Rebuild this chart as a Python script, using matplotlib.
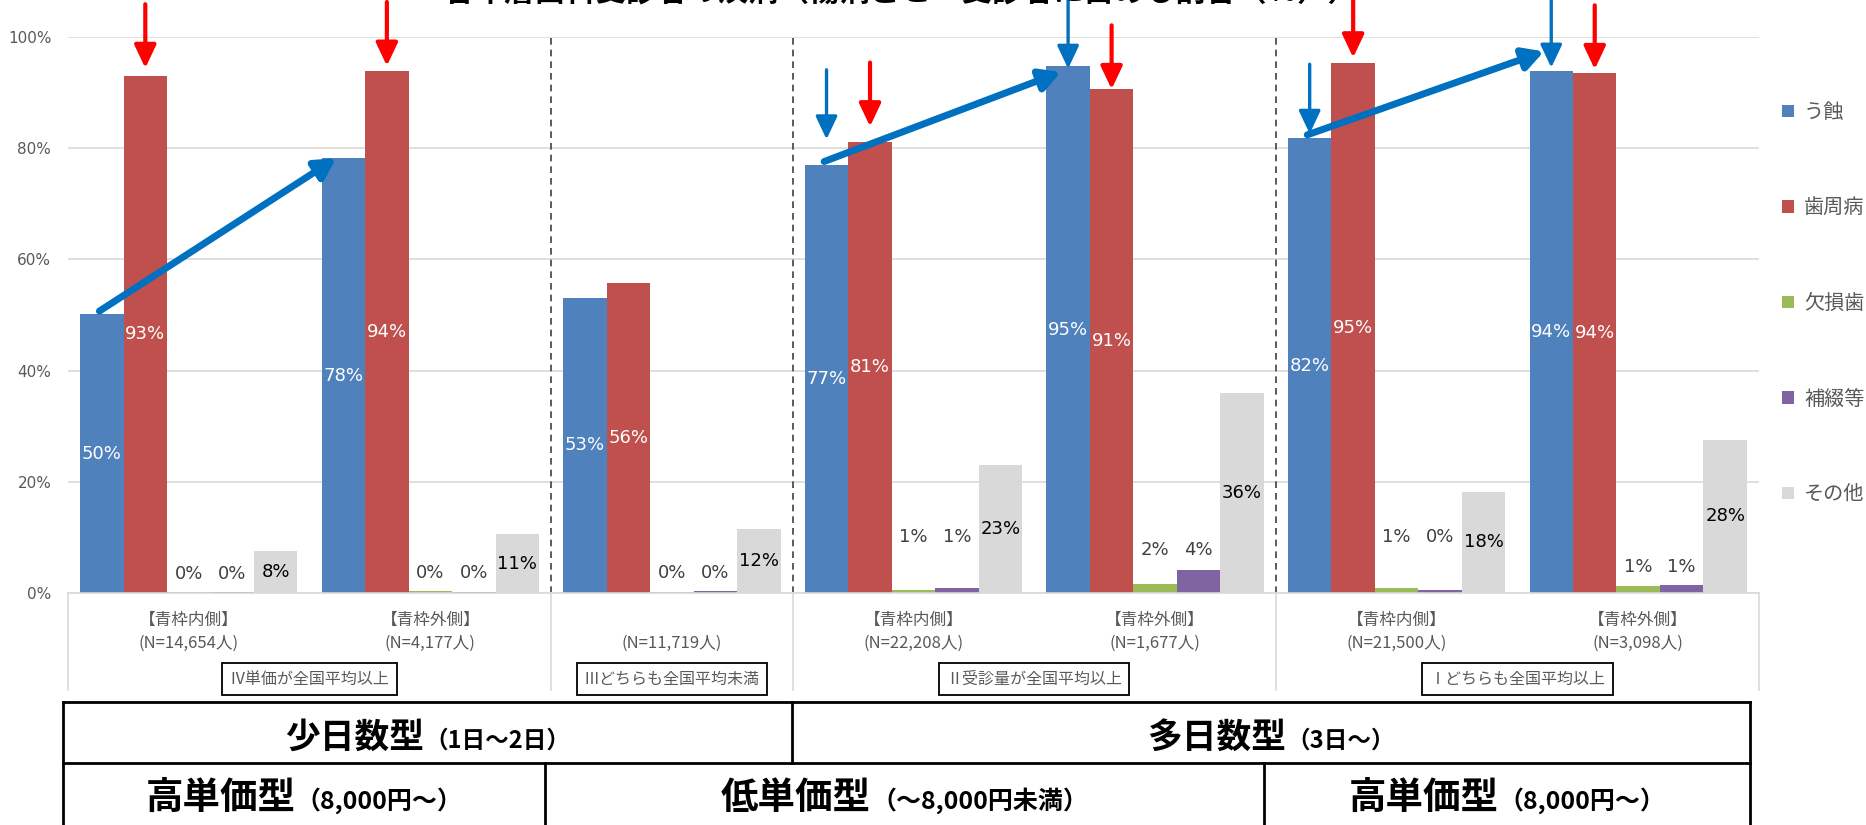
import numpy as np
import matplotlib
matplotlib.use('Agg')
import matplotlib.pyplot as plt
from matplotlib.lines import Line2D
from matplotlib.ticker import PercentFormatter

plt.rcParams['font.family'] = ['Noto Sans CJK JP', 'DejaVu Sans']

# ---------------------------------------------- data

title = '各年層歯科受診者の疾病（傷病ごと：受診者に占める割合（％））'

cat_top = ['【青枠内側】', '【青枠外側】', '', '【青枠内側】', '【青枠外側】', '【青枠内側】', '【青枠外側】']
cat_n = ['(N=14,654人)', '(N=4,177人)', '(N=11,719人)', '(N=22,208人)',
         '(N=1,677人)', '(N=21,500人)', '(N=3,098人)']
group_labels = ['Ⅳ単価が全国平均以上', 'Ⅲどちらも全国平均未満', 'Ⅱ受診量が全国平均以上', 'Ⅰどちらも全国平均以上']
group_spans = [(0, 1), (2, 2), (3, 4), (5, 6)]

series_names = ['う蝕', '歯周病', '欠損歯', '補綴等', 'その他']
caries = [50.1, 78.2, 53.1, 77.0, 94.7, 81.8, 93.9]
perio = [93.0, 93.8, 55.8, 81.2, 90.6, 95.3, 93.6]
missing = [0.1, 0.3, 0.1, 0.6, 1.7, 0.9, 1.3]
prosth = [0.1, 0.1, 0.3, 0.9, 4.2, 0.5, 1.4]
other = [7.6, 10.6, 11.6, 23.0, 36.0, 18.2, 27.6]

red_arrow_cats = [0, 1, 3, 4, 5, 6]
blue_arrow_cats = [3, 4, 5, 6]
trend_pairs = [(0, 1), (3, 4), (5, 6)]

table_row1 = [('少日数型', '（1日～2日）'), ('多日数型', '（3日～）')]
table_row2 = [('高単価型', '（8,000円～）'), ('低単価型', '（～8,000円未満）'), ('高単価型', '（8,000円～）')]

# ---------------------------------------------- layout / style

W, H = 1866, 825
colors = ['#4F81BD', '#C0504D', '#9BBB59', '#8064A2', '#D9D9D9']
bar_w = 0.18
small_label_y = [0.034, 0.036, 0.036, 0.10, 0.077, 0.10, 0.047]
red_gap = {0: 0.014, 1: 0.01, 3: 0.027, 4: 0.0, 5: 0.01, 6: 0.006}
blue_gap = {3: 0.046, 4: -0.004, 5: 0.008, 6: 0.006}
trend_end_dy = [0.0, -0.01, 0.035]
arrow_len = 0.115
row1_x = [63, 792, 1750]
row2_x = [63, 545, 1264, 1750]
table_y = [702, 763, 830]

fig = plt.figure(figsize=(W / 100, H / 100), dpi=100)
ax = fig.add_axes([68 / W, 1 - 593 / H, (1759 - 68) / W, (593 - 37) / H])

x = np.arange(len(caries))
series = [caries, perio, missing, prosth, other]
bars = []
for j, (vals, c, name) in enumerate(zip(series, colors, series_names)):
    b = ax.bar(x + (j - 2) * bar_w, np.array(vals) / 100, bar_w, color=c, label=name, zorder=2)
    bars.append(b)

ax.set_xlim(-0.5, 6.5)
ax.set_ylim(0, 1)
ax.set_yticks(np.arange(0, 1.01, 0.2))
ax.yaxis.set_major_formatter(PercentFormatter(1.0, decimals=0))
ax.tick_params(axis='y', length=0, pad=12, labelsize=11, labelcolor='#595959', labelfontfamily='DejaVu Sans')
ax.set_xticks([])
ax.yaxis.grid(True, color='#D9D9D9', lw=1.2)
ax.set_axisbelow(True)
for s in ['left', 'right', 'top']:
    ax.spines[s].set_visible(False)
ax.spines['bottom'].set_color('#D9D9D9')
ax.spines['bottom'].set_linewidth(1.2)

# value labels
for j, b in enumerate(bars):
    for i, rect in enumerate(b):
        v = series[j][i]
        xc = rect.get_x() + rect.get_width() / 2
        if j in (0, 1):
            y, col = v / 200, 'white'
        elif j == 4:
            y, col = v / 200, 'black'
        else:
            y, col = small_label_y[i], '#404040'
        ax.text(xc, y, f'{v:.0f}%', ha='center', va='center', fontsize=13,
                color=col, family='DejaVu Sans', zorder=3)

# dashed dividers
for xd in [1.5, 2.5, 4.5]:
    ax.plot([xd, xd], [0, 1.0], ls=(0, (4, 3)), color='#404040', lw=1.2, zorder=1)

# category area
trans = ax.get_xaxis_transform()
for xs in [-0.5, 1.5, 2.5, 4.5, 6.5]:
    ax.plot([xs, xs], [0, -0.175], transform=trans, color='#D9D9D9', lw=1.2, clip_on=False)
for i in x:
    ax.text(i, -0.049, cat_top[i], transform=trans, ha='center', va='center', fontsize=12, color='#595959')
    ax.text(i, -0.09, cat_n[i], transform=trans, ha='center', va='center', fontsize=12, color='#595959')
for lab, (a, b) in zip(group_labels, group_spans):
    ax.text((a + b) / 2, -0.155, lab, transform=trans, ha='center', va='center', fontsize=11.5,
            color='#595959', bbox=dict(boxstyle='square,pad=0.45', fc='white', ec='black', lw=1.3))

# arrows
def arrow(x0, y0, x1, y1, color, lw, hl, hw):
    ax.annotate('', xy=(x1, y1), xytext=(x0, y0), annotation_clip=False, zorder=4,
                arrowprops=dict(arrowstyle=f'-|>,head_length={hl},head_width={hw}', color=color,
                                lw=lw, shrinkA=0, shrinkB=0, mutation_scale=20))

for i in red_arrow_cats:
    xr = i - bar_w
    tip = perio[i] / 100 + red_gap[i]
    arrow(xr, tip + arrow_len, xr, tip, '#FF0000', 3.0, 0.7, 0.33)
for i in blue_arrow_cats:
    xb = i - 2 * bar_w
    tip = caries[i] / 100 + blue_gap[i]
    arrow(xb, tip + arrow_len + 0.01, xb, tip, '#0070C0', 2.4, 0.7, 0.33)
for (a, b), dy in zip(trend_pairs, trend_end_dy):
    arrow(a - 2 * bar_w - 0.01, caries[a] / 100 + 0.006,
          b - 2 * bar_w - 0.03, caries[b] / 100 + dy, '#0070C0', 5.0, 0.6, 0.33)

# legend
ax.legend(loc='upper left', bbox_to_anchor=(1782 / W, 1 - 102 / H), bbox_transform=fig.transFigure,
          frameon=False, fontsize=14.5, labelcolor='#595959', labelspacing=3.7,
          handlelength=0.6, handleheight=0.6, handletextpad=0.5, borderpad=0, borderaxespad=0)

# title (top is cut off in the original)
fig.text(901 / W, 1 - 2 / H, title, ha='center', va='baseline', fontsize=22, fontweight='bold')

# bottom table
def hline(x0, x1, y):
    fig.add_artist(Line2D([x0 / W, x1 / W], [1 - y / H, 1 - y / H], color='black', lw=2))

def vline(xv, y0, y1):
    fig.add_artist(Line2D([xv / W, xv / W], [1 - y0 / H, 1 - y1 / H], color='black', lw=2))

hline(row1_x[0], row1_x[-1], table_y[0])
hline(row1_x[0], row1_x[-1], table_y[1])
for xv in row1_x:
    vline(xv, table_y[0], table_y[1])
for xv in row2_x:
    vline(xv, table_y[1], table_y[2])

renderer = fig.canvas.get_renderer()

def pair_text(xc, ybase, big, small, bsize, ssize):
    t1 = fig.text(0, 1 - ybase / H, big, fontsize=bsize, fontweight='bold', ha='left', va='baseline')
    t2 = fig.text(0, 1 - ybase / H, small, fontsize=ssize, fontweight='bold', ha='left', va='baseline')
    w1 = t1.get_window_extent(renderer).width
    w2 = t2.get_window_extent(renderer).width
    x0 = xc - (w1 + w2) / 2
    t1.set_x(x0 / W)
    t2.set_x((x0 + w1) / W)

for k, (big, small) in enumerate(table_row1):
    pair_text((row1_x[k] + row1_x[k + 1]) / 2, 748, big, small, 25, 17)
for k, (big, small) in enumerate(table_row2):
    pair_text((row2_x[k] + row2_x[k + 1]) / 2, 809, big, small, 27, 18)

fig.savefig('out.png', dpi=100, facecolor='white')
